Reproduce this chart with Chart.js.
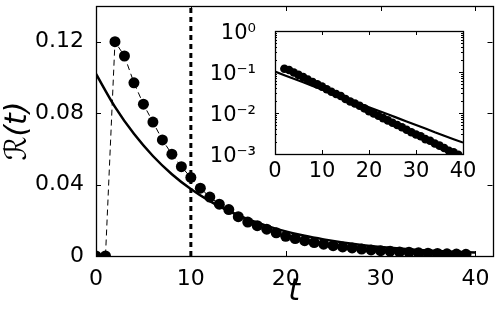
<!DOCTYPE html>
<html>
<head>
<meta charset="utf-8">
<script src="https://cdn.jsdelivr.net/npm/chart.js@4.4.0/dist/chart.umd.min.js"></script>
<style>
  body { margin: 0; background: #fff; }
  #wrap { position: relative; width: 498px; height: 310px; }
  #inset { position: absolute; left: 195px; top: 20px; }
</style>
</head>
<body>
<div id="wrap">
  <canvas id="mainChart" width="498" height="310"></canvas>
  <canvas id="inset" width="280" height="170"></canvas>
</div>
<script>
// time steps and measured R(t)
const tValues = [0, 1, 2, 3, 4, 5, 6, 7, 8, 9, 10, 11, 12, 13, 14, 15, 16, 17, 18, 19,
                 20, 21, 22, 23, 24, 25, 26, 27, 28, 29, 30, 31, 32, 33, 34, 35, 36, 37, 38, 39];
const rValues = [0, 0, 0.120, 0.112, 0.097, 0.085, 0.075, 0.065, 0.057, 0.050,
                 0.044, 0.038, 0.033, 0.029, 0.026, 0.022, 0.019, 0.017, 0.015, 0.013,
                 0.011, 0.0098, 0.0086, 0.0075, 0.0066, 0.0058, 0.0051, 0.0045, 0.0039, 0.0034,
                 0.0030, 0.0027, 0.0023, 0.0021, 0.0018, 0.0016, 0.0014, 0.0012, 0.0011, 0.00095];

// fitted curve (solid line)
const fitT = [0, 2, 4, 6, 8, 10, 12, 14, 16, 18, 20, 22, 24, 26, 28, 30, 32, 34, 36, 38, 40];
const fitValues = [0.102, 0.0835, 0.0684, 0.0560, 0.0458, 0.0375, 0.0307, 0.0252, 0.0206, 0.0169,
                   0.0138, 0.0113, 0.0093, 0.0076, 0.0062, 0.0051, 0.0042, 0.0034, 0.0028, 0.0023, 0.0019];

const markerT = 10;

const mainXTicks = [0, 10, 20, 30, 40];
const mainYTicks = [0, 0.04, 0.08, 0.12];
const mainYLabels = ['0', '0.04', '0.08', '0.12'];
const insetXTicks = [0, 10, 20, 30, 40];
const insetYTicks = [0.001, 0.01, 0.1, 1];
const insetYLabels = ['10⁻³', '10⁻²', '10⁻¹', '10⁰'];

const FONT = 'DejaVu Sans';

const dots = tValues.map((t, i) => ({ x: t, y: rValues[i] }));
const fit = fitT.map((t, i) => ({ x: t, y: fitValues[i] }));

// frame + inward ticks on all four sides
const frameTicks = {
  id: 'frameTicks',
  afterDatasetsDraw(chart, args, opts) {
    const { ctx, chartArea: a, scales } = chart;
    const x = scales.x, y = scales.y;
    const L = opts.major || 5, m = opts.minor || 2;
    ctx.save();
    ctx.strokeStyle = '#000';
    ctx.lineWidth = 1;
    ctx.beginPath();
    x.ticks.forEach(t => {
      const px = Math.round(x.getPixelForValue(t.value)) + 0.5;
      ctx.moveTo(px, a.bottom); ctx.lineTo(px, a.bottom - L);
      ctx.moveTo(px, a.top); ctx.lineTo(px, a.top + L);
    });
    y.ticks.forEach(t => {
      const py = Math.round(y.getPixelForValue(t.value)) + 0.5;
      ctx.moveTo(a.left, py); ctx.lineTo(a.left + L, py);
      ctx.moveTo(a.right, py); ctx.lineTo(a.right - L, py);
    });
    (opts.minorY || []).forEach(v => {
      const py = Math.round(y.getPixelForValue(v)) + 0.5;
      ctx.moveTo(a.left, py); ctx.lineTo(a.left + m, py);
      ctx.moveTo(a.right, py); ctx.lineTo(a.right - m, py);
    });
    ctx.stroke();
    ctx.lineWidth = 1.3;
    ctx.strokeRect(Math.round(a.left) + 0.5, Math.round(a.top) + 0.5,
                   Math.round(a.right - a.left), Math.round(a.bottom - a.top));
    ctx.restore();
  }
};

function noPad(s) {
  s.paddingTop = 0; s.paddingBottom = 0; s.paddingLeft = 0; s.paddingRight = 0;
}

new Chart(document.getElementById('mainChart'), {
  type: 'scatter',
  data: {
    datasets: [
      {
        data: [{ x: markerT, y: 0 }, { x: markerT, y: 0.14 }],
        showLine: true, borderColor: '#000', borderWidth: 3, borderDash: [5, 4],
        pointRadius: 0
      },
      {
        data: fit, showLine: true, borderColor: '#000', borderWidth: 2.5,
        pointRadius: 0, tension: 0.3
      },
      {
        data: dots, showLine: true, borderColor: '#000', borderWidth: 1, borderDash: [6, 4],
        pointRadius: 5.5, pointBackgroundColor: '#000', pointBorderColor: '#000', pointBorderWidth: 0
      }
    ]
  },
  options: {
    responsive: false,
    animation: false,
    layout: { padding: { top: 6, right: 5, left: 0, bottom: 0 } },
    plugins: {
      legend: { display: false },
      tooltip: { enabled: false },
      frameTicks: { major: 5 }
    },
    scales: {
      x: {
        type: 'linear', min: 0, max: 41.8,
        grid: { display: false }, border: { display: false },
        afterBuildTicks: s => { s.ticks = mainXTicks.map(v => ({ value: v })); },
        ticks: { color: '#000', font: { family: FONT, size: 22 }, padding: 2, maxRotation: 0,
                 callback: v => String(v) },
        title: { display: true, text: 't', color: '#000',
                 font: { family: FONT, size: 30, style: 'italic' }, padding: 0 },
        afterFit: s => { s.height = 54; noPad(s); }
      },
      y: {
        type: 'linear', min: 0, max: 0.14,
        grid: { display: false }, border: { display: false },
        afterBuildTicks: s => { s.ticks = mainYTicks.map(v => ({ value: v })); },
        ticks: { color: '#000', font: { family: FONT, size: 22 }, padding: 4,
                 callback: (v, i) => mainYLabels[i] },
        title: { display: true, text: 'ℛ(t)', color: '#000',
                 font: { family: FONT, size: 30, style: 'italic' }, padding: 0 },
        afterFit: s => { s.width = 96; noPad(s); }
      }
    }
  },
  plugins: [frameTicks]
});

// minor log ticks for the inset
const insetMinor = [];
[0.001, 0.01, 0.1].forEach(d => { for (let k = 2; k <= 9; k++) insetMinor.push(d * k); });

new Chart(document.getElementById('inset'), {
  type: 'scatter',
  data: {
    datasets: [
      {
        data: fit, showLine: true, borderColor: '#000', borderWidth: 2.2,
        pointRadius: 0
      },
      {
        data: dots.filter(p => p.y > 0), showLine: true, borderColor: '#000', borderWidth: 1,
        borderDash: [6, 4], pointRadius: 4.3, pointBackgroundColor: '#000',
        pointBorderColor: '#000', pointBorderWidth: 0
      }
    ]
  },
  options: {
    responsive: false,
    animation: false,
    layout: { padding: { top: 11, right: 12, left: 0, bottom: 0 } },
    plugins: {
      legend: { display: false },
      tooltip: { enabled: false },
      frameTicks: { major: 4, minor: 2, minorY: insetMinor }
    },
    scales: {
      x: {
        type: 'linear', min: 0, max: 40,
        grid: { display: false }, border: { display: false },
        afterBuildTicks: s => { s.ticks = insetXTicks.map(v => ({ value: v })); },
        ticks: { color: '#000', font: { family: FONT, size: 21 }, padding: -3, maxRotation: 0,
                 callback: v => String(v) },
        afterFit: s => { s.height = 36; noPad(s); }
      },
      y: {
        type: 'logarithmic', min: 0.001, max: 1,
        grid: { display: false }, border: { display: false },
        afterBuildTicks: s => { s.ticks = insetYTicks.map(v => ({ value: v })); },
        ticks: { color: '#000', font: { family: FONT, size: 21 }, padding: 11, labelOffset: 3,
                 callback: (v, i) => insetYLabels[i] },
        afterFit: s => { s.width = 80; noPad(s); }
      }
    }
  },
  plugins: [frameTicks]
});
</script>
</body>
</html>
